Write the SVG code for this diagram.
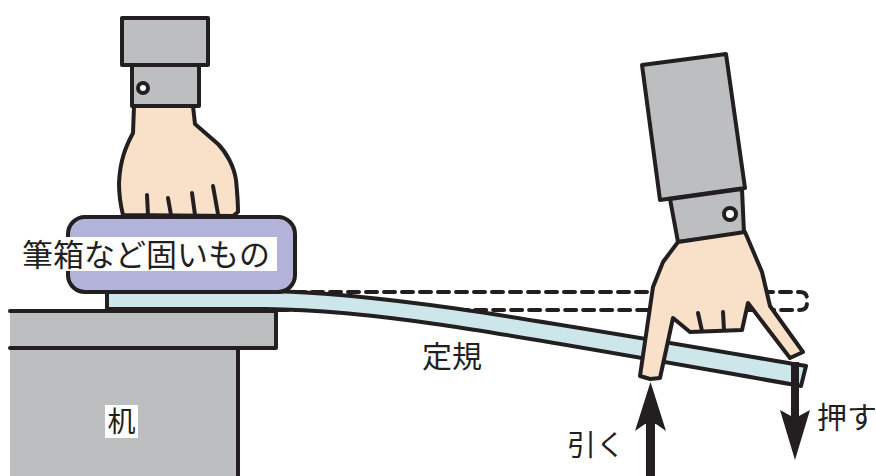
<svg xmlns="http://www.w3.org/2000/svg" width="876" height="476" viewBox="0 0 876 476">
  <defs>
    <style>
      .ln { stroke: #231f20; stroke-width: 4; stroke-linejoin: round; stroke-linecap: round; }
      .cloth { fill: #bcbec0; }
      .skin { fill: #f9e0c8; }
      .label { font-family: "Noto Sans CJK JP", "Noto Sans CJK SC", sans-serif; fill: #231f20; }
      .tag { fill: #ffffff; }
      .arrow { fill: #231f20; }
    </style>
  </defs>

  <!-- desk -->
  <g id="desk">
    <rect class="cloth" x="10" y="311" width="266" height="37"/>
    <rect class="cloth" x="10" y="348" width="228" height="130"/>
    <path class="ln" fill="none" d="M10,311 H276 V348 H10 M238,348 V478"/>
    <rect class="tag" x="105" y="405" width="33" height="33"/>
    <text class="label" x="121.5" y="432" font-size="28" text-anchor="middle">机</text>
  </g>

  <!-- original (unbent) ruler position -->
  <g id="ruler-rest">
    <path class="ln" fill="none" stroke-dasharray="11 7" stroke-linecap="butt" d="M276,292 H800 Q807,292 807,299 V303 Q807,310 800,310 H276"/>
  </g>

  <!-- ruler, bent -->
  <g id="ruler">
    <path class="ln" fill="#cde6ea" d="M107,291 L265,291 C380,293 500,314 806,366 L801,386 C500,333 380,310 265,309 L107,309 Z"/>
    <text class="label" x="452" y="367" font-size="30" text-anchor="middle">定規</text>
  </g>

  <!-- pencil case -->
  <g id="case">
    <rect class="ln" fill="#b3b3d9" x="68" y="217" width="227" height="75" rx="17"/>
    <rect class="tag" x="20" y="237" width="257" height="34"/>
    <text class="label" x="22" y="266" font-size="31">筆箱など固いもの</text>
  </g>

  <!-- hand holding the case -->
  <g id="left-hand">
    <rect class="ln cloth" x="122" y="18" width="86" height="47"/>
    <rect class="ln cloth" x="132" y="65" width="67" height="41"/>
    <circle class="ln" fill="#ffffff" stroke-width="3" cx="143" cy="88" r="5"/>
    <path class="ln skin" d="M134,106 L133,133 C126,146 120,160 119,183 C119,198 121,207 123,215 L233,216 L238,212 C238,200 237,190 236,180 C234,166 226,152 218,144 L195,124 L193,106 Z"/>
    <path class="ln" fill="none" d="M147,195 L148,215 M168,198 L171,215 M192,193 L195,215 M213,186 L218,214"/>
  </g>

  <!-- hand bending the ruler -->
  <g id="right-hand">
    <polygon class="ln cloth" points="642,65 726,54 745,188 660,200"/>
    <polygon class="ln cloth" points="670,199 742,189 744,233 678,242"/>
    <circle class="ln" fill="#ffffff" stroke-width="3" cx="730" cy="214" r="6"/>
    <path class="ln skin" d="M678,242 L663,262 L653,287 L640,376 L650,379 L660,378 L673,318 L690,332 L742,330 L748,303 L790,358 L803,352 L770,306 L762,272 L745,232 Z"/>
    <path class="ln" fill="none" d="M698,313 L702,331 M723,312 L724,330"/>
  </g>

  <!-- force arrows -->
  <g id="connectors">
    <g id="push">
      <rect class="arrow" x="791" y="362" width="8" height="54"/>
      <polygon class="arrow" points="780,410 791,416 799,416 810,410 795,460"/>
      <text class="label" x="817" y="428" font-size="30">押す</text>
    </g>
    <g id="pull">
      <rect class="arrow" x="646" y="420" width="9" height="58"/>
      <polygon class="arrow" points="650.5,382 666,431 656,424 645,424 635,431"/>
      <text class="label" x="567" y="456" font-size="29">引く</text>
    </g>
  </g>
</svg>
